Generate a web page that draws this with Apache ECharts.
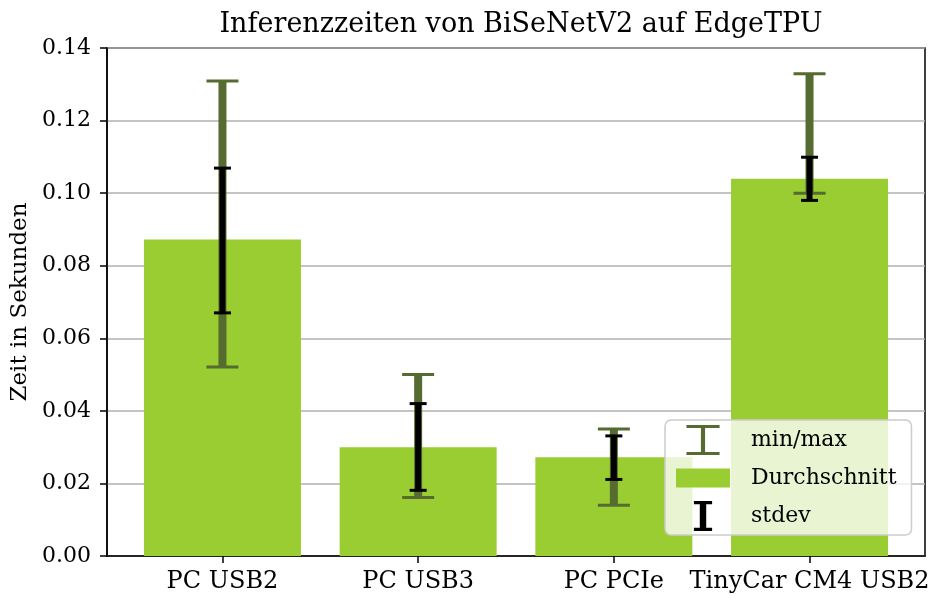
<!DOCTYPE html>
<html>
<head>
<meta charset="utf-8">
<script src="https://cdn.jsdelivr.net/npm/echarts@6/dist/echarts.min.js"></script>
<style>
  html, body { margin: 0; padding: 0; background: #fff; }
  #chart { width: 932px; height: 599px; }
</style>
</head>
<body>
<div id="chart"></div>
<script>
// Inference times of BiSeNetV2 on the EdgeTPU, per host setup.
const categories = ["PC USB2", "PC USB3", "PC PCIe", "TinyCar CM4 USB2"];
const meanTimes = [0.0872, 0.0300, 0.0272, 0.1040];
const minTimes = [0.0521, 0.0161, 0.0140, 0.1000];
const maxTimes = [0.1309, 0.0500, 0.0350, 0.1329];
const stdLow = [0.0670, 0.0181, 0.0211, 0.0980];
const stdHigh = [0.1069, 0.0420, 0.0331, 0.1099];
const yTicks = [0, 0.02, 0.04, 0.06, 0.08, 0.10, 0.12, 0.14];

const FONT = "DejaVu Serif";
const BAR_COLOR = "#9acd32";
const MINMAX_COLOR = "#556b2f";
const STD_COLOR = "#000000";

// I-beam glyphs for the legend (cap / stem / cap)
const minmaxIcon = "path://M0,0H32V3H18V26H32V29H0V26H14V3H0Z";
const stdIcon = "path://M0,0H17V3H11.5V25H17V28H0V25H5.5V3H0Z";
const barIcon = "path://M0,0H54V19H0Z";

function errorBar(capWidth, stemWidth, capHeight, color) {
  return function (params, api) {
    const x = api.value(0);
    const lo = api.coord([x, api.value(1)]);
    const hi = api.coord([x, api.value(2)]);
    const style = { fill: color };
    return {
      type: "group",
      children: [
        { type: "rect", shape: { x: lo[0] - stemWidth / 2, y: hi[1], width: stemWidth, height: lo[1] - hi[1] }, style },
        { type: "rect", shape: { x: hi[0] - capWidth / 2, y: hi[1] - capHeight / 2, width: capWidth, height: capHeight }, style },
        { type: "rect", shape: { x: lo[0] - capWidth / 2, y: lo[1] - capHeight / 2, width: capWidth, height: capHeight }, style },
      ],
    };
  };
}

const chart = echarts.init(document.getElementById("chart"), null, { renderer: "canvas" });
const xs = categories.map((_, i) => i);

chart.setOption({
  animation: false,
  textStyle: { fontFamily: FONT },
  title: {
    text: "Inferenzzeiten von BiSeNetV2 auf EdgeTPU",
    left: 516,
    textAlign: "center",
    top: 6,
    textStyle: { fontFamily: FONT, fontSize: 27, fontWeight: "normal", color: "#000" },
  },
  grid: {
    left: 107, right: 7, top: 48, bottom: 43,
    outerBoundsMode: "none",
    containLabel: false,
    show: true, borderColor: "#000", borderWidth: 1.5,
  },
  legend: {
    orient: "vertical",
    left: 665,
    top: 420,
    padding: [5, 15, 4, 11],
    itemGap: 12,
    itemWidth: 54,
    itemHeight: 30,
    backgroundColor: "rgba(255,255,255,0.78)",
    borderColor: "#cccccc",
    borderWidth: 1.5,
    borderRadius: 6,
    textStyle: { fontFamily: FONT, fontSize: 22, color: "#000", padding: [0, 0, 0, 16] },
    data: [
      { name: "min/max", icon: minmaxIcon },
      { name: "Durchschnitt", icon: barIcon },
      { name: "stdev", icon: stdIcon },
    ],
  },
  xAxis: {
    type: "value",
    min: -0.59,
    max: 3.59,
    splitLine: { show: false },
    axisLine: { show: true, onZero: false, lineStyle: { color: "#000", width: 1.5 } },
    axisTick: { show: true, length: 7, customValues: xs, lineStyle: { color: "#000", width: 1.5 } },
    axisLabel: {
      customValues: xs,
      formatter: (v) => categories[Math.round(v)],
      fontFamily: FONT, fontSize: 24, color: "#000", margin: 14,
    },
  },
  yAxis: {
    type: "value",
    min: 0,
    max: 0.14,
    interval: 0.02,
    name: "Zeit in Sekunden",
    nameLocation: "middle",
    nameGap: 70,
    nameTextStyle: { fontFamily: FONT, fontSize: 23, color: "#000" },
    axisLine: { show: true, onZero: false, lineStyle: { color: "#000", width: 1.5 } },
    axisTick: { show: true, length: 7, lineStyle: { color: "#000", width: 1.5 } },
    axisLabel: {
      customValues: yTicks,
      formatter: (v) => v.toFixed(2),
      fontFamily: FONT, fontSize: 22, color: "#000", margin: 16,
    },
    splitLine: { show: true, lineStyle: { color: "#b0b0b0", width: 1.5 } },
  },
  series: [
    {
      name: "Durchschnitt",
      type: "bar",
      data: xs.map((x, i) => [x, meanTimes[i]]),
      barWidth: 157,
      itemStyle: { color: BAR_COLOR },
      z: 2,
    },
    {
      name: "min/max",
      type: "custom",
      data: xs.map((x, i) => [x, minTimes[i], maxTimes[i]]),
      renderItem: errorBar(32, 8, 3, MINMAX_COLOR),
      itemStyle: { color: MINMAX_COLOR },
      encode: { x: 0, y: [1, 2] },
      z: 3,
    },
    {
      name: "stdev",
      type: "custom",
      data: xs.map((x, i) => [x, stdLow[i], stdHigh[i]]),
      renderItem: errorBar(17, 6, 3, STD_COLOR),
      itemStyle: { color: STD_COLOR },
      encode: { x: 0, y: [1, 2] },
      z: 4,
    },
  ],
});
</script>
</body>
</html>
